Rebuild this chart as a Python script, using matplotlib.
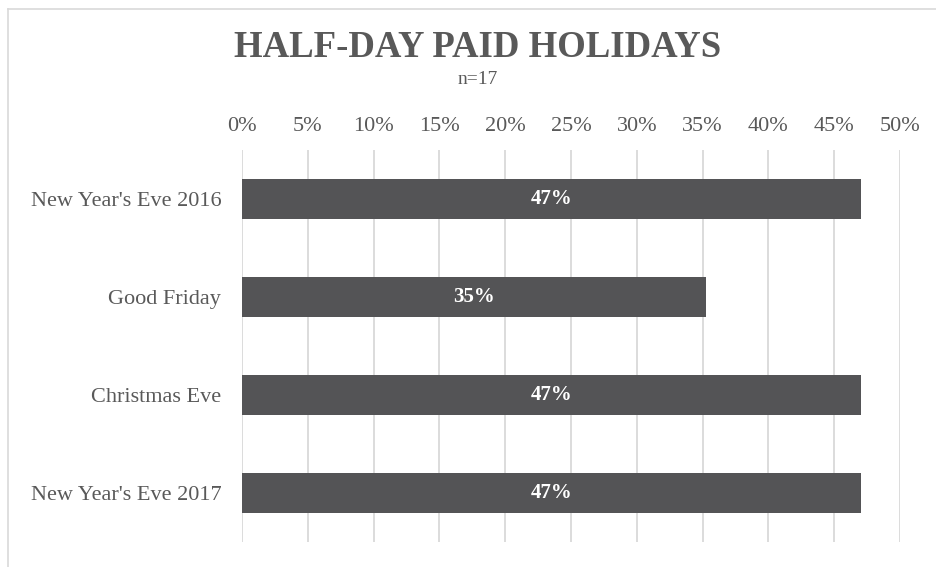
import matplotlib.pyplot as plt
import numpy as np

categories = ["New Year's Eve 2016", "Good Friday", "Christmas Eve", "New Year's Eve 2017"]
counts = [8, 6, 8, 8]
n_total = 17
shares = [c / n_total for c in counts]
bar_labels = ["47%", "35%", "47%", "47%"]
ticks = np.arange(0, 0.51, 0.05)
tick_labels = [f"{int(round(t * 100))}%" for t in ticks]

plt.rcParams['font.family'] = ['Liberation Serif', 'DejaVu Serif']
grey = "#595959"

fig = plt.figure(figsize=(9.37, 5.67), dpi=100)
ax = fig.add_axes([0.2583, 0.0441, 0.7022, 0.6913])

y = np.arange(len(categories))
ax.barh(y, shares, height=0.41, color="#545456", zorder=3)
for yi, v, lab in zip(y, shares, bar_labels):
    ax.text(v / 2, yi, lab, color="white", fontsize=15, fontweight="bold",
            ha="center", va="center", zorder=4)

ax.set_xlim(0, 0.5)
ax.set_ylim(len(categories) - 0.5, -0.5)
ax.set_yticks(y)
ax.set_yticklabels(categories, fontsize=16, color=grey)
ax.set_xticks(ticks)
ax.set_xticklabels(tick_labels, fontsize=16, color=grey)
ax.xaxis.tick_top()
ax.tick_params(axis="both", length=0)
ax.tick_params(axis="x", pad=10)
ax.tick_params(axis="y", pad=15)
ax.grid(axis="x", color="#d9d9d9", linewidth=1.3, zorder=0)
for s in ax.spines.values():
    s.set_visible(False)

fig.text(0.51, 0.917, "HALF-DAY PAID HOLIDAYS", ha="center", va="center",
         fontsize=26.5, fontweight="bold", color=grey)
fig.text(0.51, 0.859, "n=17", ha="center", va="center", fontsize=14, color=grey)

# light frame on top and left edges
fig.add_artist(plt.Line2D([0.0085, 1], [0.985, 0.985], color="#d9d9d9", linewidth=1.2))
fig.add_artist(plt.Line2D([0.0085, 0.0085], [0, 0.985], color="#d9d9d9", linewidth=1.2))

fig.savefig("out.png", dpi=100)
